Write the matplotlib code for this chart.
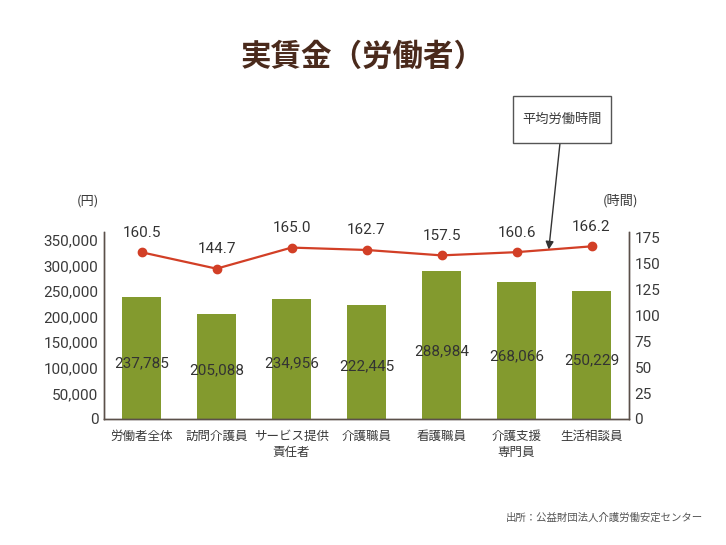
import matplotlib
matplotlib.use('Agg')
import matplotlib.pyplot as plt
from matplotlib import font_manager
from matplotlib.patches import Rectangle
import numpy as np

# 数字用フォント（細めのものがあれば使う）
names = {f.name for f in font_manager.fontManager.ttflist}
if 'Liberation Sans Narrow' in names:
    num_family, num_size = 'Liberation Sans Narrow', 12.5
else:
    num_family, num_size = 'Roboto', 11
plt.rcParams['font.family'] = [num_family, 'Noto Sans CJK JP', 'DejaVu Sans']

# データ
categories = ['労働者全体', '訪問介護員', 'サービス提供\n責任者', '介護職員', '看護職員', '介護支援\n専門員', '生活相談員']
wages = [237785, 205088, 234956, 222445, 288984, 268066, 250229]
hours = [160.5, 144.7, 165.0, 162.7, 157.5, 160.6, 166.2]
wage_ticks = [0, 50000, 100000, 150000, 200000, 250000, 300000, 350000]
hour_ticks = [0, 25, 50, 75, 100, 125, 150, 175]

bar_color = '#839a2e'
line_color = '#d23f26'
text_color = '#3a3a3a'
spine_color = '#5b504a'
jp = ['Noto Sans CJK JP', 'DejaVu Sans']

fig = plt.figure(figsize=(7.26, 5.45), dpi=100)
ax = fig.add_axes([0.1433, 0.2312, 0.7231, 0.3431])
ax2 = ax.twinx()

x = np.arange(len(categories))

# 棒グラフ（賃金）
ax.bar(x, wages, width=0.52, color=bar_color, zorder=2)
for xi, w in zip(x, wages):
    ax.text(xi, w * 0.46, f'{w:,}', ha='center', va='center', fontsize=num_size, color='#333333', zorder=3)

ax.set_xlim(-0.5, len(categories) - 0.5)
ax.set_ylim(0, 365000)
ax.set_yticks(wage_ticks)
ax.set_yticklabels([f'{t:,}' for t in wage_ticks])

# 折れ線（労働時間）
ax2.plot(x, hours, color=line_color, lw=1.6, marker='o', markersize=6, zorder=4)
for xi, h in zip(x, hours):
    ax2.annotate(f'{h:.1f}', (xi, h), xytext=(0, 9), textcoords='offset points',
                 ha='center', va='bottom', fontsize=num_size, color='#333333')
ax2.set_ylim(0, 180)
ax2.set_yticks(hour_ticks)

for a in (ax, ax2):
    a.tick_params(axis='y', length=0, labelsize=num_size, colors=text_color, pad=4)
    a.spines['top'].set_visible(False)
    for s in ('left', 'right', 'bottom'):
        a.spines[s].set_color(spine_color)
        a.spines[s].set_linewidth(1.0)
ax.tick_params(axis='x', length=0, pad=8)
ax.set_xticks(x)
ax.set_xticklabels(categories, family=jp, fontsize=9, color=text_color, linespacing=1.3)

# 単位
fig.text(88 / 726, 1 - 201 / 545, '(円)', family=jp, fontsize=9.5, color=text_color, ha='center', va='center')
fig.text(620 / 726, 1 - 201 / 545, '(時間)', family=jp, fontsize=9.5, color=text_color, ha='center', va='center')

# タイトル
fig.text(0.5, 1 - 57 / 545, '実賃金（労働者）', family=jp, fontsize=22, fontweight='bold',
         color='#4a2a1c', ha='center', va='center')

# 注記ボックスと矢印
box_l, box_t, box_w, box_h = 513 / 726, 1 - 96 / 545, 98 / 726, 47 / 545
fig.patches.append(Rectangle((box_l, box_t - box_h), box_w, box_h, transform=fig.transFigure,
                             facecolor='white', edgecolor='#555555', lw=1.0))
fig.text(box_l + box_w / 2, box_t - box_h / 2, '平均労働時間', family=jp, fontsize=9.5,
         color=text_color, ha='center', va='center')
ax_pos = 5.43
ax2.annotate('', xy=(ax_pos, np.interp(ax_pos, x, hours)), xycoords='data',
             xytext=(560 / 726, box_t - box_h), textcoords='figure fraction',
             arrowprops=dict(arrowstyle='-|>', color='#333333', lw=1.0, mutation_scale=12,
                             shrinkA=0, shrinkB=0))

# 出所
fig.text(703 / 726, 1 - 518 / 545, '出所：公益財団法人介護労働安定センター', family=jp, fontsize=7.5,
         color='#555555', ha='right', va='center')

fig.savefig('out.png', dpi=100)
